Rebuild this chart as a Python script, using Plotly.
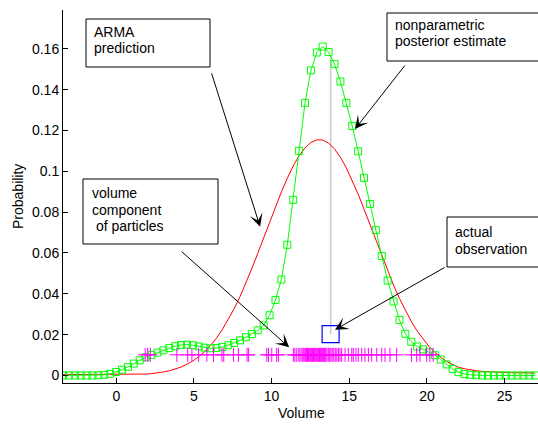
import plotly.graph_objects as go

# ---------------- data ----------------
volume_grid = [-3.43, -3.05, -2.67, -2.29, -1.91, -1.53, -1.15, -0.77, -0.39, -0.01,
               0.37, 0.75, 1.13, 1.51, 1.89, 2.27, 2.65, 3.03, 3.41, 3.79,
               4.17, 4.55, 4.93, 5.31, 5.69, 6.07, 6.45, 6.83, 7.21, 7.59,
               7.97, 8.35, 8.73, 9.11, 9.49, 9.87, 10.25, 10.63, 11.01, 11.39,
               11.77, 12.15, 12.53, 12.91, 13.29, 13.67, 14.05, 14.43, 14.81, 15.19,
               15.57, 15.95, 16.33, 16.71, 17.09, 17.47, 17.85, 18.23, 18.61, 18.99,
               19.37, 19.75, 20.13, 20.51, 20.89, 21.27, 21.65, 22.03, 22.41, 22.79,
               23.17, 23.55, 23.93, 24.31, 24.69, 25.07, 25.45, 25.83, 26.21, 26.59,
               26.97]

posterior_prob = [0.0, 0.0, 0.0, 0.0, 0.0, 0.0, 0.0001, 0.0003, 0.0008, 0.0017,
                  0.0028, 0.0042, 0.0058, 0.0074, 0.0089, 0.0101, 0.0112, 0.0123, 0.0134, 0.0143,
                  0.0149, 0.0151, 0.0148, 0.0142, 0.0136, 0.0133, 0.0134, 0.0139, 0.0148, 0.0159,
                  0.0172, 0.0187, 0.0203, 0.0221, 0.0245, 0.0295, 0.0370, 0.0470, 0.0640, 0.0860,
                  0.1100, 0.1335, 0.1494, 0.1582, 0.1611, 0.1584, 0.1525, 0.1440, 0.1335, 0.1222,
                  0.1098, 0.0968, 0.0840, 0.0712, 0.0585, 0.0465, 0.0362, 0.0272, 0.0204, 0.0165,
                  0.0142, 0.0128, 0.0114, 0.0099, 0.0078, 0.0054, 0.0032, 0.0016, 0.0007, 0.0003,
                  0.0001, 0.0, 0.0, 0.0, 0.0, 0.0, 0.0, 0.0, 0.0, 0.0,
                  0.0]

arma_prob = [0.0004, 0.0004, 0.0004, 0.0004, 0.0004, 0.0004, 0.0004, 0.0004, 0.0004, 0.0004,
             0.0004, 0.0004, 0.0004, 0.0005, 0.0007, 0.0009, 0.0012, 0.0017, 0.0023, 0.0031,
             0.0041, 0.0055, 0.0071, 0.0092, 0.0117, 0.0147, 0.0183, 0.0225, 0.0273, 0.0327,
             0.0387, 0.0453, 0.0524, 0.0598, 0.0674, 0.0751, 0.0827, 0.0899, 0.0966, 0.1026,
             0.1076, 0.1115, 0.1141, 0.1154, 0.1153, 0.1138, 0.1109, 0.1069, 0.1017, 0.0956,
             0.0888, 0.0815, 0.0739, 0.0662, 0.0586, 0.0512, 0.0442, 0.0377, 0.0318, 0.0265,
             0.0218, 0.0177, 0.0142, 0.0113, 0.0088, 0.0068, 0.0052, 0.0040, 0.0033, 0.0027,
             0.0023, 0.0020, 0.0018, 0.0016, 0.0015, 0.0014, 0.0013, 0.0013, 0.0012, 0.0012,
             0.0012]

particle_volumes = [1.86, 2.02, 2.19, 3.9, 4.6, 4.87, 5.3, 5.83, 6.26, 6.8,
                    6.92, 7.55, 7.86, 8.42, 8.52, 9.69, 9.8, 10.01, 10.33, 10.44,
                    11.4, 11.5, 11.62, 11.75, 11.83, 11.95, 12.02, 12.08, 12.15, 12.2,
                    12.26, 12.31, 12.37, 12.42, 12.48, 12.53, 12.58, 12.64, 12.7, 12.75,
                    12.8, 12.86, 12.91, 12.97, 13.03, 13.08, 13.14, 13.2, 13.27, 13.33,
                    13.4, 13.48, 13.56, 13.65, 13.74, 13.82, 13.9, 14.0, 14.1, 14.2,
                    14.3, 14.4, 14.51, 14.73, 14.94, 15.16, 15.26, 15.43, 15.58, 15.8,
                    16.01, 16.23, 16.44, 16.77, 17.09, 17.3, 17.62, 18.05, 19.0, 19.34,
                    19.55, 19.98, 20.19, 20.4]
particle_level = [0.0101] * len(particle_volumes)

observed_volume = [13.8]
observed_prob = [0.0202]
observed_stem_prob = [0.0202, 0.157]

x_ticks = [0, 5, 10, 15, 20, 25]
y_ticks = [0, 0.02, 0.04, 0.06, 0.08, 0.1, 0.12, 0.14, 0.16]
y_tick_labels = ["0", "0.02", "0.04", "0.06", "0.08", "0.1", "0.12", "0.14", "0.16"]

# ---------------- layout geometry ----------------
W, H = 538, 425
ML, MR, MT, MB = 63, 0, 10, 42
PW, PH = W - ML - MR, H - MT - MB
FONT = "Liberation Sans, Arial, Helvetica, sans-serif"


def fx(px):
    return (px - ML) / PW


def fy(py):
    return (H - MB - py) / PH


fig = go.Figure()

fig.add_trace(go.Scatter(x=observed_volume * 2, y=observed_stem_prob, mode="lines",
                         line=dict(color="#cdcdcd", width=1.6), showlegend=False))
fig.add_trace(go.Scatter(x=volume_grid, y=arma_prob, mode="lines",
                         line=dict(color="#ff0000", width=1), showlegend=False))
fig.add_trace(go.Scatter(x=volume_grid, y=posterior_prob, mode="lines+markers",
                         line=dict(color="#00ff00", width=1),
                         marker=dict(symbol="square-open", size=7, color="#00ff00",
                                     line=dict(color="#00ff00", width=1)),
                         showlegend=False))
fig.add_trace(go.Scatter(x=particle_volumes, y=particle_level, mode="markers",
                         marker=dict(symbol="cross-thin-open", size=10, color="#ff00ff",
                                     line=dict(color="#ff00ff", width=1)),
                         showlegend=False))
fig.add_trace(go.Scatter(x=observed_volume, y=observed_prob, mode="markers",
                         marker=dict(symbol="square-open", size=17, color="#0000ff",
                                     line=dict(color="#0000ff", width=1.2)),
                         showlegend=False))

# ---- text boxes ----
boxes = [(86, 19, 210, 67), (387, 13, 540, 61), (83, 179, 218, 244), (447, 217, 540, 267)]
shapes = []
for x0, y0, x1, y1 in boxes:
    shapes.append(dict(type="rect", xref="paper", yref="paper",
                       x0=fx(x0), x1=fx(x1), y0=fy(y1), y1=fy(y0),
                       line=dict(color="#000000", width=1), fillcolor="#ffffff", layer="above"))

text_lines = [
    ("ARMA", 93, 37.3), ("prediction", 93, 53.3),
    ("nonparametric", 394, 29.5), ("posterior estimate", 394, 46.5),
    ("volume", 91, 198.3), ("component", 91, 214.5), (" of particles", 91, 230.7),
    ("actual", 454, 237.3), ("observation", 454, 254),
]
annotations = []
for txt, x, base in text_lines:
    annotations.append(dict(text=txt, xref="paper", yref="paper", x=fx(x), y=fy(base - 5),
                            xanchor="left", yanchor="middle", showarrow=False, borderpad=0,
                            font=dict(family=FONT, size=14, color="#000000")))

# axis titles
annotations.append(dict(text="Volume", xref="paper", yref="paper", x=fx(301), y=fy(413),
                        xanchor="center", yanchor="middle", showarrow=False, borderpad=0,
                        font=dict(family=FONT, size=14, color="#000000")))
annotations.append(dict(text="Probability", xref="paper", yref="paper", x=fx(18), y=fy(197),
                        xanchor="center", yanchor="middle", showarrow=False, borderpad=0,
                        textangle=-90, font=dict(family=FONT, size=14, color="#000000")))

# arrows: tip in data coords, tail offset in pixels
arrows = [
    (9.26, 0.0728, -49, -155),
    (15.37, 0.1207, 51, -65),
    (11.13, 0.0138, -109, -97),
    (14.08, 0.0224, 111, -63),
]
for tx, ty, ax, ay in arrows:
    annotations.append(dict(x=tx, y=ty, xref="x", yref="y", ax=ax, ay=ay, text="",
                            showarrow=True, arrowhead=3, arrowsize=2.2, arrowwidth=1,
                            arrowcolor="#000000", standoff=0))

fig.update_layout(
    width=W, height=H,
    margin=dict(l=ML, r=MR, t=MT, b=MB, pad=0, autoexpand=False),
    paper_bgcolor="#ffffff", plot_bgcolor="#ffffff",
    font=dict(family=FONT, size=14, color="#000000"),
    shapes=shapes, annotations=annotations,
    xaxis=dict(range=[-3.43, 27.15], tickvals=x_ticks, ticks="inside", ticklen=5,
               tickcolor="#000000", showline=True, linecolor="#000000", linewidth=1,
               showgrid=False, zeroline=False, tickfont=dict(size=14, color="#000000"),
               automargin=False),
    yaxis=dict(range=[-0.0037, 0.179], tickvals=y_ticks, ticktext=y_tick_labels,
               ticks="inside", ticklen=5, tickcolor="#000000", showline=True,
               linecolor="#000000", linewidth=1, showgrid=False, zeroline=False,
               tickfont=dict(size=14, color="#000000"), automargin=False),
    showlegend=False,
)

fig.write_html("out.html", config={"displayModeBar": False},
               post_script="document.body.style.margin='0px';document.body.style.padding='0px';")
